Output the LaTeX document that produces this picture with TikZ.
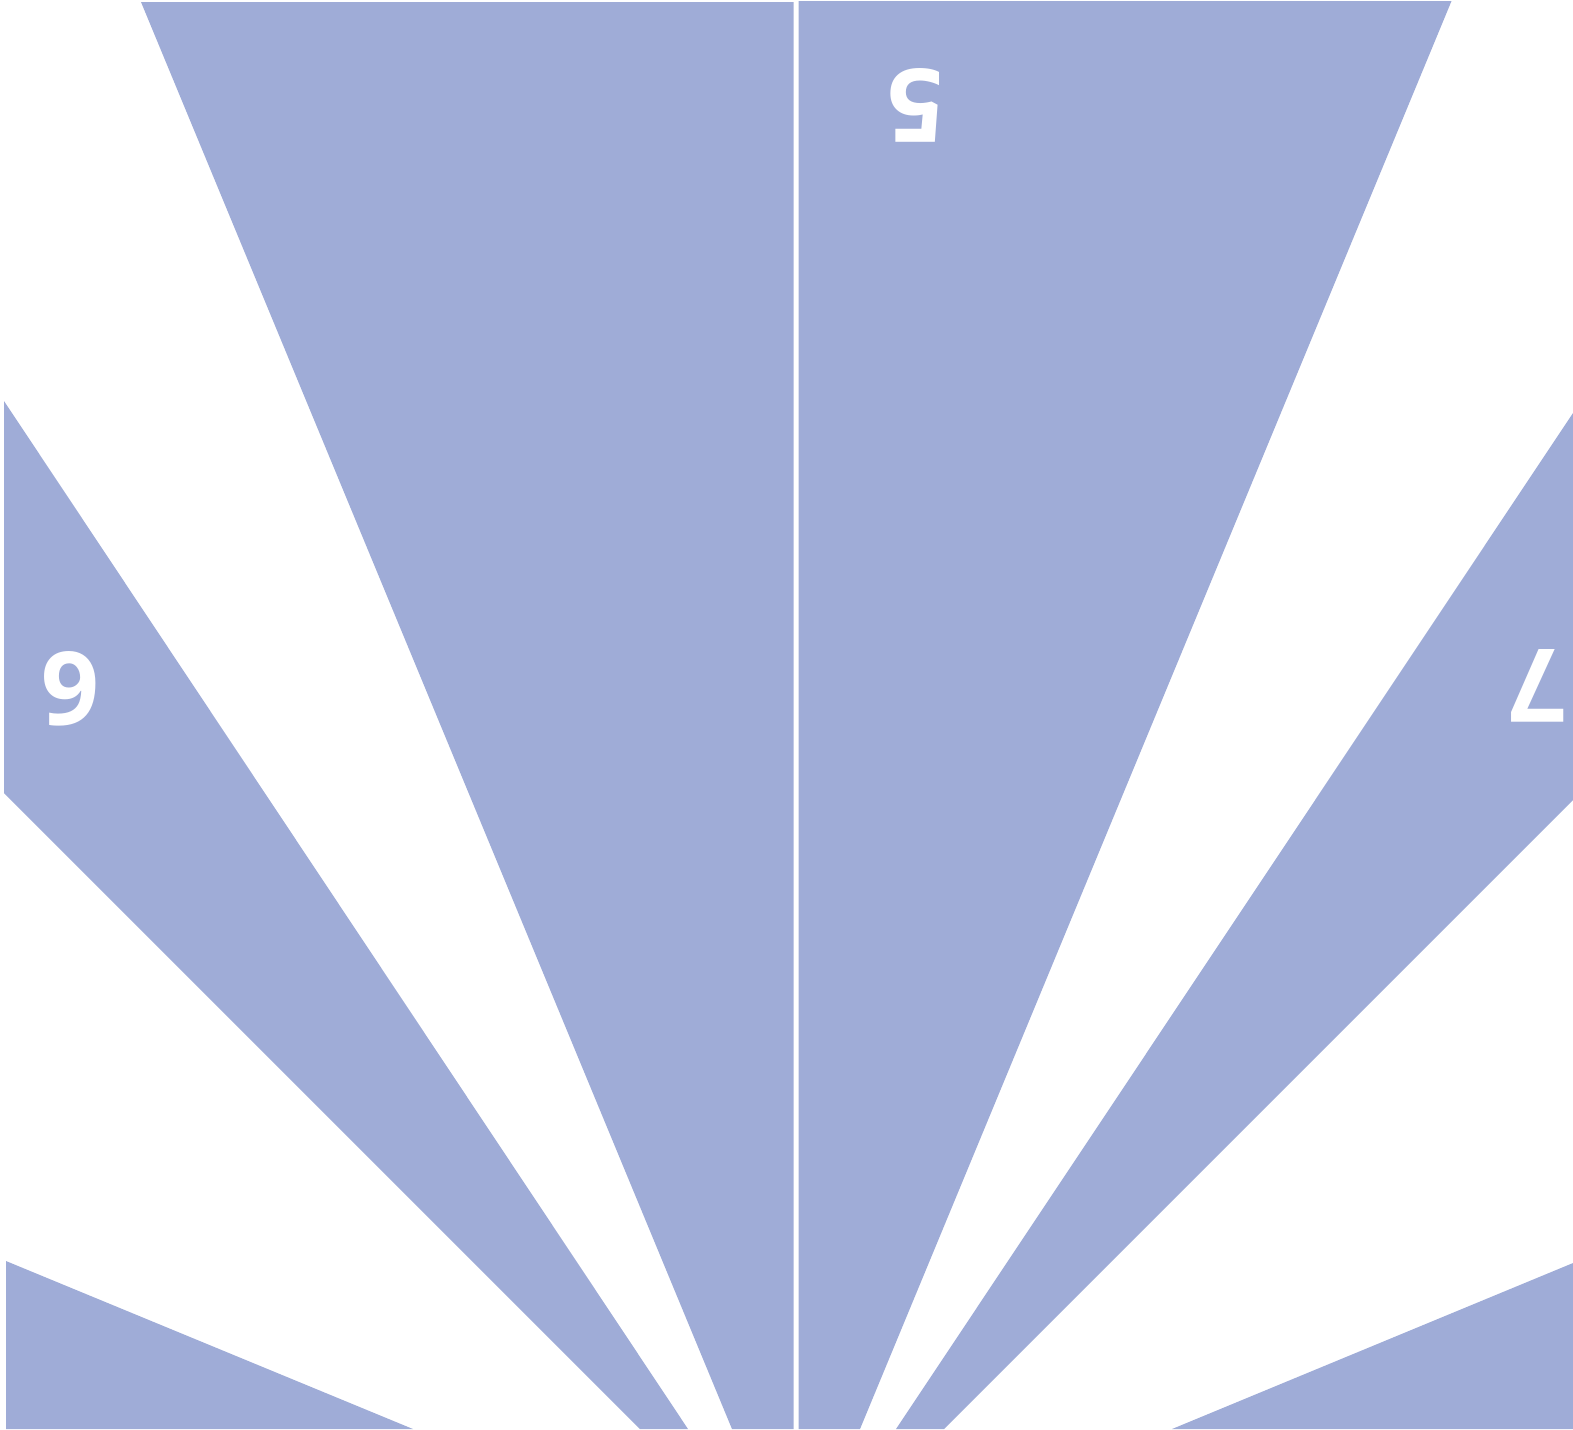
\documentclass[tikz,border=0pt]{standalone}
\usepackage{fontspec}
\setmainfont{Open Sans}
\usepackage{tikz}

\definecolor{wedgeblue}{HTML}{9FACD7}

\begin{document}
\begin{tikzpicture}[x=0.01cm, y=-0.01cm,
		wedge/.style={fill=wedgeblue, draw=none},
		num/.style={text=white, font=\fontsize{29}{29}\selectfont\bfseries, rotate=180, inner sep=0pt}]
		\useasboundingbox (0, 0) rectangle (1573, 1429);

		\coordinate (A1) at (141, 2);
		\coordinate (A2) at (793.5, 2);
		\coordinate (A3) at (793.5, 1429);
		\coordinate (A4) at (732, 1429);

		\coordinate (B1) at (798.5, 1);
		\coordinate (B2) at (1451.5, 1);
		\coordinate (B3) at (860, 1429);
		\coordinate (B4) at (798.5, 1429);

		\coordinate (C1) at (4, 401);
		\coordinate (C2) at (688, 1429);
		\coordinate (C3) at (640, 1429);
		\coordinate (C4) at (4, 793);

		\coordinate (D1) at (1573, 413);
		\coordinate (D2) at (1573, 800);
		\coordinate (D3) at (944, 1429);
		\coordinate (D4) at (896, 1429);

		\coordinate (E1) at (6, 1261);
		\coordinate (E2) at (413, 1429);
		\coordinate (E3) at (6, 1429);

		\coordinate (F1) at (1573, 1263);
		\coordinate (F2) at (1573, 1429);
		\coordinate (F3) at (1172, 1429);

		\fill[wedge] (A1) -- (A2) -- (A3) -- (A4) -- cycle;
		\fill[wedge] (B1) -- (B2) -- (B3) -- (B4) -- cycle;
		\fill[wedge] (C1) -- (C2) -- (C3) -- (C4) -- cycle;
		\fill[wedge] (D1) -- (D2) -- (D3) -- (D4) -- cycle;
		\fill[wedge] (E1) -- (E2) -- (E3) -- cycle;
		\fill[wedge] (F1) -- (F2) -- (F3) -- cycle;

		\node[num] (L5) at (915, 105) {5};
		\node[num] (L6) at (70, 689) {6};
		\node[num] (L7) at (1537, 686) {7};
	\end{tikzpicture}
\end{document}
